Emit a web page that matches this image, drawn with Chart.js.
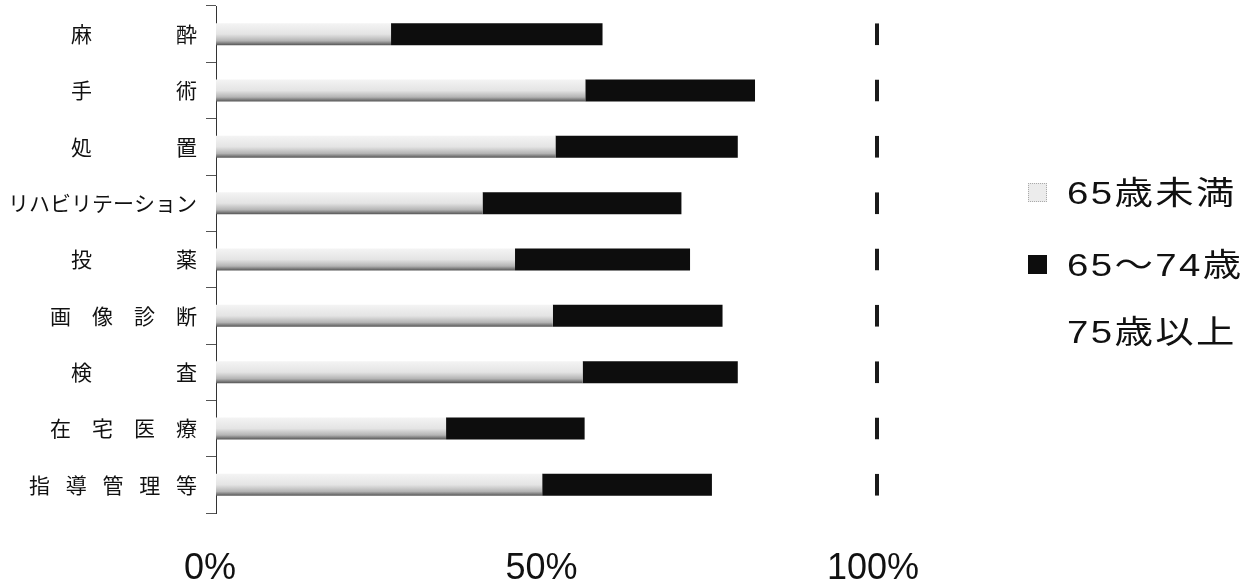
<!DOCTYPE html>
<html><head><meta charset="utf-8">
<script src="https://cdn.jsdelivr.net/npm/chart.js@4.4.1/dist/chart.umd.min.js"></script>
<style>
html,body{margin:0;padding:0;background:#fff;}
#wrap{position:relative;width:1252px;height:586px;overflow:hidden;}
canvas{display:block;}
.li{position:absolute;left:1028px;height:40px;line-height:40px;white-space:nowrap;font-family:"Liberation Sans","Noto Sans CJK JP",sans-serif;font-size:32px;color:#111;}
.sw{position:absolute;left:0;top:10px;width:19px;height:19px;box-sizing:border-box;}
.tx{position:absolute;left:39px;top:0;letter-spacing:2px;transform:scaleX(1.2);transform-origin:left center;}
</style></head>
<body><div id="wrap"><canvas id="c" width="1252" height="586"></canvas><div id="legend"></div></div>
<script>
const categories = ['麻酔','手術','処置','リハビリテーション','投薬','画像診断','検査','在宅医療','指導管理等'];
const seriesNames = ['65歳未満','65～74歳','75歳以上'];
const under65   = [26.4, 55.7, 51.2, 40.2, 45.1, 50.8, 55.3, 34.7, 49.2];
const age65to74 = [31.9, 25.6, 27.5, 30.0, 26.4, 25.6, 23.4, 20.9, 25.6];
const age75plus = [41.7, 18.7, 21.3, 29.8, 28.5, 23.6, 21.3, 44.4, 25.2];
const xTicks = [0, 50, 100];

function spaced(label){
  const ch = Array.from(label);
  if (ch.length === 2) return ch.join('\u3000\u3000\u3000\u3000');
  if (ch.length === 4) return ch.join('\u3000');
  if (ch.length === 5) return ch.join('\u2002\u2005');
  return label;
}

function lightFill(ctx){
  const chart = ctx.chart;
  const ys = chart.scales && chart.scales.y;
  if (!ys || ctx.dataIndex === undefined) return '#e0e0e0';
  const yc = ys.getPixelForValue(ctx.dataIndex);
  if (!isFinite(yc)) return '#e0e0e0';
  const g = chart.ctx.createLinearGradient(0, yc - 11, 0, yc + 11);
  g.addColorStop(0, '#f4f4f4');
  g.addColorStop(0.5, '#e4e4e4');
  g.addColorStop(0.8, '#b4b4b4');
  g.addColorStop(1, '#555');
  return g;
}

const swatchStyles = [
  'background:#ececec;border:1px dotted #aaa;',
  'background:#0d0d0d;',
  'background:transparent;'
];
const centersY = [193, 265, 332];
const legendEl = document.getElementById('legend');
seriesNames.forEach((name, i) => {
  const row = document.createElement('div');
  row.className = 'li';
  row.style.top = (centersY[i] - 20) + 'px';
  const sw = document.createElement('span');
  sw.className = 'sw';
  sw.style.cssText = swatchStyles[i];
  const tx = document.createElement('span');
  tx.className = 'tx';
  tx.textContent = name;
  row.appendChild(sw); row.appendChild(tx);
  legendEl.appendChild(row);
});

new Chart(document.getElementById('c'), {
  type: 'bar',
  data: {
    labels: categories,
    datasets: [
      { label: seriesNames[0], data: under65, backgroundColor: lightFill, borderWidth: 0,
        barPercentage: 0.39, categoryPercentage: 1 },
      { label: seriesNames[1], data: age65to74, backgroundColor: '#0d0d0d', borderWidth: 0,
        barPercentage: 0.39, categoryPercentage: 1 },
      { label: seriesNames[2], data: age75plus, backgroundColor: '#ffffff',
        borderColor: '#1a1a1a', borderWidth: {top:0, bottom:0, left:0, right:4}, borderSkipped: false,
        barPercentage: 0.39, categoryPercentage: 1 }
    ]
  },
  options: {
    indexAxis: 'y',
    responsive: false,
    animation: false,
    layout: { padding: { top: 6, right: 373, bottom: 0, left: 0 } },
    plugins: { legend: { display: false }, tooltip: { enabled: false }, title: { display: false } },
    scales: {
      x: {
        stacked: true, min: 0, max: 100,
        afterBuildTicks: s => { s.ticks = xTicks.map(v => ({ value: v })); },
        afterFit: s => { s.height = 73; s.paddingLeft = 0; s.paddingRight = 0; },
        grid: { display: false, drawTicks: false },
        border: { display: false },
        ticks: {
          callback: v => v + '%',
          font: { family: '"Liberation Sans", Arial, sans-serif', size: 36 },
          color: '#111', padding: 34, labelOffset: -6, maxRotation: 0, autoSkip: false
        }
      },
      y: {
        stacked: true,
        offset: true,
        afterFit: s => { s.width = 216; s.paddingTop = 0; s.paddingBottom = 0; },
        grid: { display: true, offset: true, drawOnChartArea: false, drawTicks: true, tickLength: 10, color: '#555', lineWidth: 1 },
        border: { display: true, color: '#333', width: 1 },
        ticks: {
          callback: function(v, i){ return spaced(categories[i]); },
          font: { family: '"Noto Sans CJK JP", sans-serif', size: 21 },
          color: '#111', padding: 9, autoSkip: false
        }
      }
    }
  }
});
</script>
</body></html>
